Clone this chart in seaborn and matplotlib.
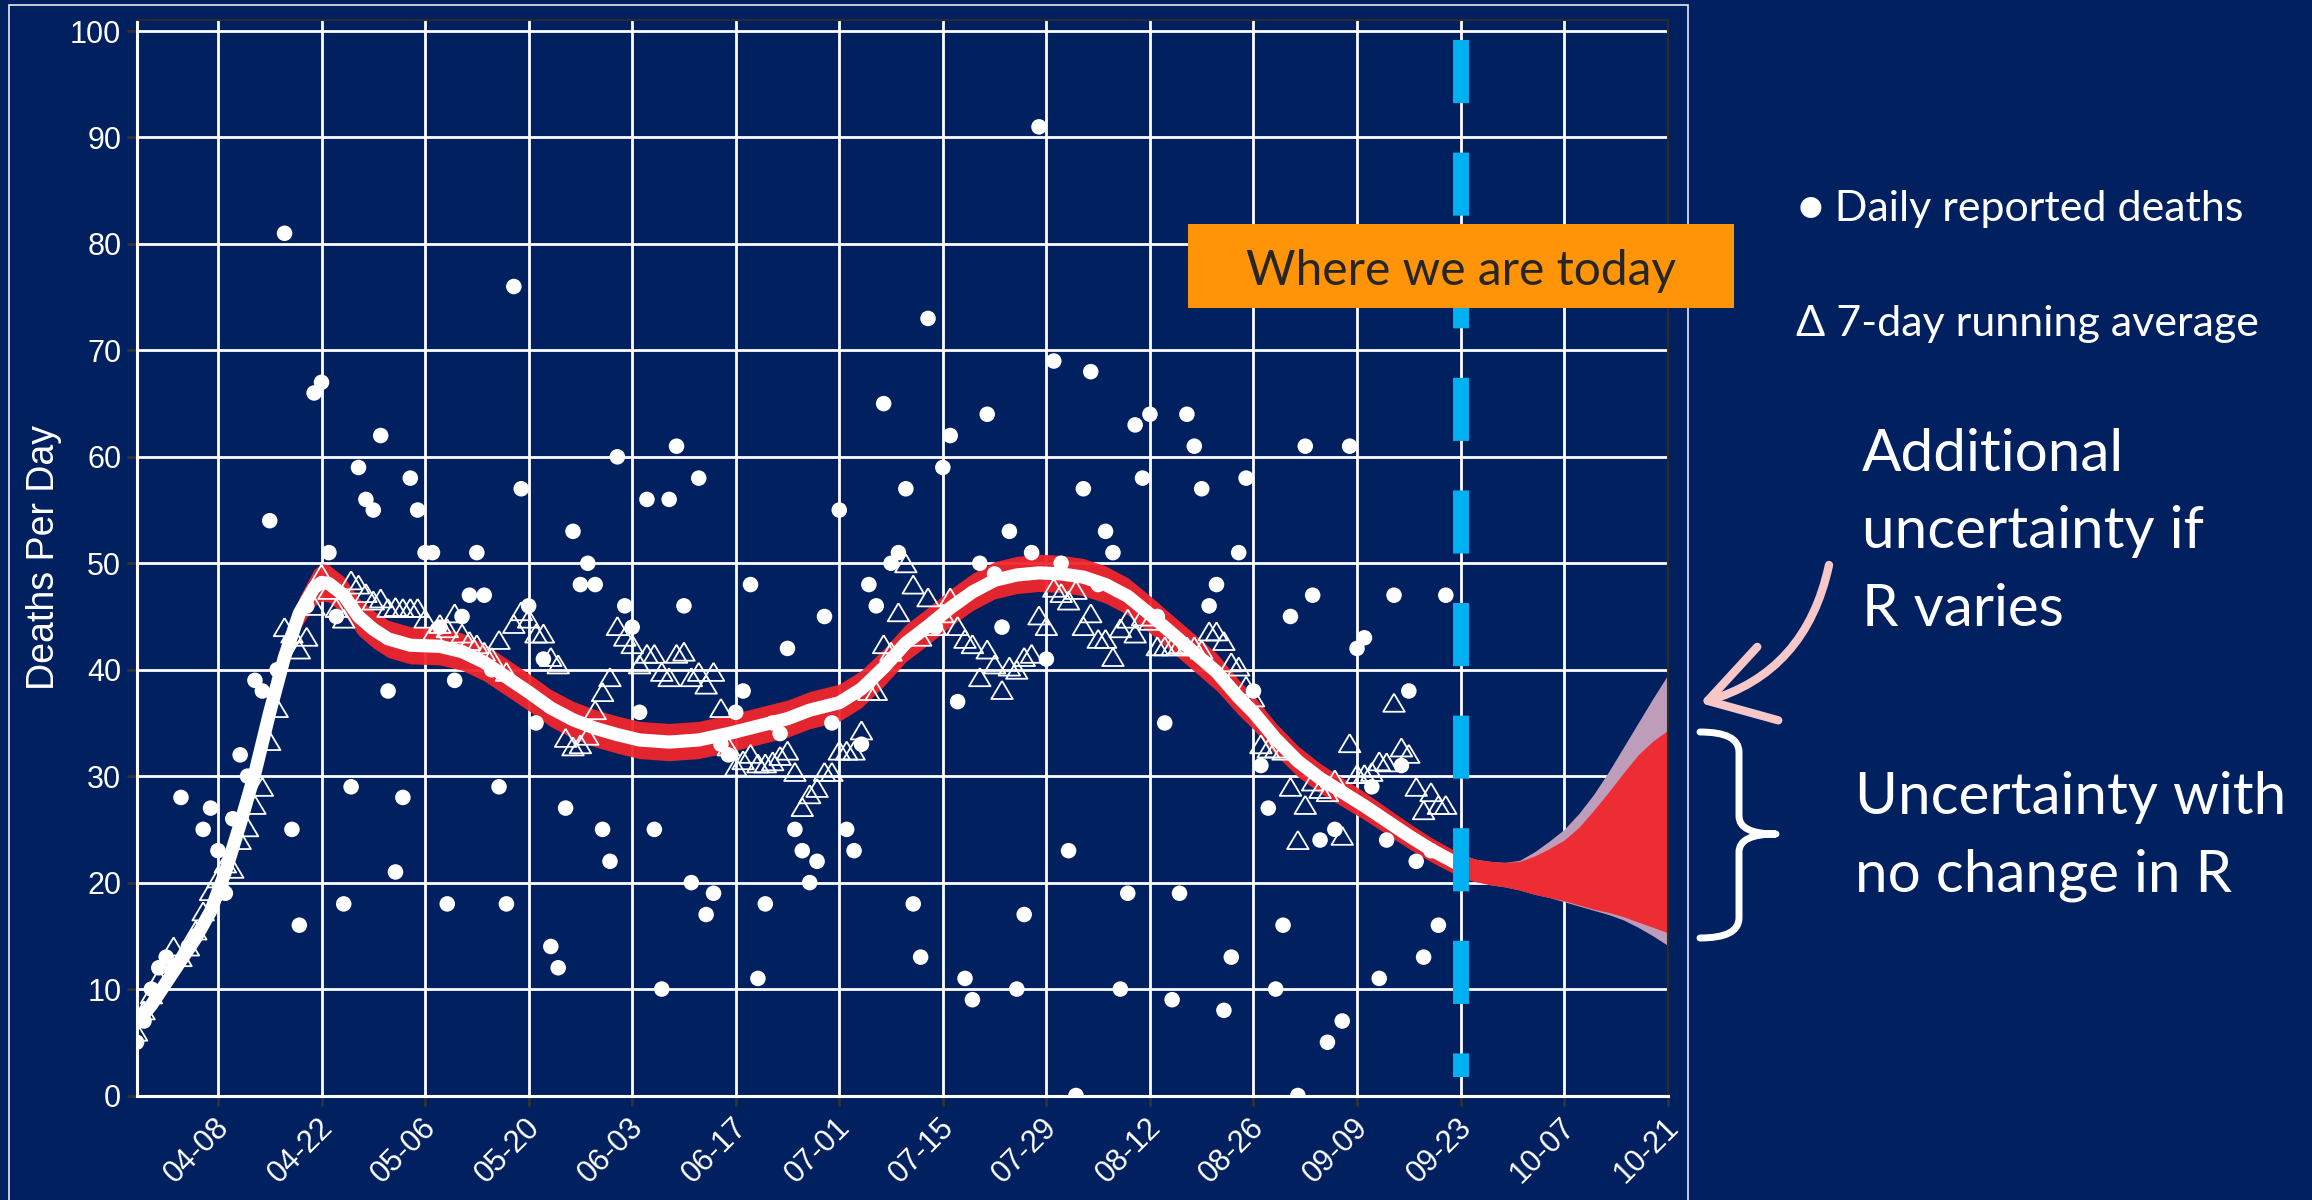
import numpy as np
import pandas as pd
import matplotlib
matplotlib.use("Agg")
import matplotlib.pyplot as plt
from matplotlib.patches import Rectangle, FancyArrowPatch, PathPatch
from matplotlib.path import Path
from matplotlib.transforms import ScaledTranslation
import seaborn as sns

NAVY = "#002060"
W, H = 2312, 1200

# data, one value per day from 2020-03-28
start = pd.Timestamp("2020-03-28")
daily_deaths = [
    5, 7, 10, 12, 13, 12, 28, 14, 15, 25,
    27, 23, 19, 26, 32, 30, 39, 38, 54, 40,
    81, 25, 16, 46, 66, 67, 51, 45, 18, 29,
    59, 56, 55, 62, 38, 21, 28, 58, 55, 51,
    51, 44, 18, 39, 45, 47, 51, 47, 40, 29,
    18, 76, 57, 46, 35, 41, 14, 12, 27, 53,
    48, 50, 48, 25, 22, 60, 46, 44, 36, 56,
    25, 10, 56, 61, 46, 20, 58, 17, 19, 33,
    32, 36, 38, 48, 11, 18, 35, 34, 42, 25,
    23, 20, 22, 45, 35, 55, 25, 23, 33, 48,
    46, 65, 50, 51, 57, 18, 13, 73, 44, 59,
    62, 37, 11, 9, 50, 64, 49, 44, 53, 10,
    17, 51, 91, 41, 69, 50, 23, 0, 57, 68,
    48, 53, 51, 10, 19, 63, 58, 64, 45, 35,
    9, 19, 64, 61, 57, 46, 48, 8, 13, 51,
    58, 38, 31, 27, 10, 16, 45, 0, 61, 47,
    24, 5, 25, 7, 61, 42, 43, 29, 11, 24,
    47, 31, 38, 22, 13, 23, 16, 47,
]
running_avg = [
    6, 8, 9.5, 11, 12.5, 14, 13, 14, 15.5, 17.3,
    19.2, 20.4, 21.8, 21.3, 24, 25.2, 27.3, 29, 33.3, 36.4,
    44, 43.4, 41.9, 43.1, 46, 49, 47.5, 45.8, 44.8, 48.4,
    48, 47.2, 46.5, 46.7, 45.8, 45.9, 45.8, 45.8, 45.8, 44.8,
    43.4, 44.3, 43.9, 45.3, 43.4, 42.7, 42.4, 41.7, 41.2, 42.8,
    39.8, 44.3, 45.5, 44.8, 43.4, 43.4, 41.2, 40.5, 33.6, 32.8,
    33, 33.8, 36.2, 37.9, 39.3, 44.1, 43.1, 42.4, 40.5, 41.5,
    41.5, 39.8, 39.3, 41.5, 41.7, 39.3, 39.8, 38.6, 39.8, 36.4,
    32.8, 30.9, 31.5, 32.1, 31.2, 31.2, 31.4, 31.9, 32.4, 30.4,
    27.1, 28.3, 28.9, 30.4, 30.4, 32.4, 32.4, 32.4, 34.3, 38,
    38, 42.4, 41.7, 45.4, 50, 48, 43.1, 46.8, 44.1, 45.3,
    46.8, 44.1, 42.9, 42.4, 39.3, 41.9, 40.5, 38.1, 40.3, 40,
    41.2, 41.5, 45.1, 44.1, 47.7, 47.2, 46.5, 47.5, 44.1, 45.3,
    42.9, 42.9, 41.2, 43.9, 44.8, 43.4, 45, 44.6, 42.2, 42.2,
    42.2, 42.4, 42.2, 42.2, 41.9, 43.6, 43.6, 42.7, 40.7, 40.3,
    38.5, 37.4, 33, 32.6, 32.6, 32.4, 29, 24, 27.3, 29.5,
    28.8, 28.5, 29.7, 24.4, 33.1, 30.2, 30.2, 30.4, 31.4, 31.3,
    36.9, 32.7, 32.1, 29, 26.8, 28.5, 27.3, 27.3,
]

# model fit (days after start), its value and the half width of the red band
fit_day = [0, 2, 4, 6, 8, 10, 12, 14, 16, 18, 19, 20, 22, 24, 25, 26, 28, 30,
           32, 34, 37, 41, 44, 47, 50, 53, 56, 59, 62, 65, 68, 72, 76, 80, 84,
           88, 91, 95, 98, 101, 104, 107, 110, 113, 116, 119, 122, 125, 128,
           131, 134, 137, 140, 143, 146, 149, 151, 154, 157, 160, 163, 166,
           169, 172, 175, 179]
fit_value = [6.8, 8.5, 10.6, 12.7, 14.8, 17.3, 21.0, 25.5, 30.3, 36.0, 38.6,
             41.2, 45.3, 47.7, 48.2, 48.1, 47.0, 45.0, 43.8, 42.9, 42.3, 42.2,
             41.7, 40.7, 39.3, 37.9, 36.4, 35.3, 34.5, 33.9, 33.4, 33.2, 33.4,
             34.0, 34.7, 35.4, 36.2, 36.9, 38.2, 40.2, 42.5, 44.1, 45.8, 47.3,
             48.4, 48.9, 49.1, 49.0, 48.7, 48.0, 46.9, 45.2, 43.4, 41.6, 39.8,
             37.4, 36.0, 33.5, 31.4, 29.8, 28.5, 27.2, 25.8, 24.4, 23.1, 21.6]
fit_halfwidth = [np.nan] * 10 + [0.0, 0.7, 1.5] + [1.75] * 42 + \
                [1.65, 1.6, 1.5, 1.45, 1.4, 1.35, 1.3, 1.25, 1.2, 1.15, 1.1]

# projection after today
proj_day = [179, 181, 183, 185, 187, 189, 191, 193, 195, 197, 199, 201, 203, 205, 207]
proj_hi = [22.7, 22.2, 22.0, 21.9, 22.0, 22.5, 23.2, 24.0, 25.2, 26.8, 28.5, 30.3, 32.0, 33.3, 34.3]
proj_lo = [20.5, 20.1, 19.8, 19.6, 19.3, 18.9, 18.6, 18.3, 17.9, 17.5, 17.2, 16.8, 16.3, 15.8, 15.3]
proj_r_hi = [22.7, 22.2, 22.0, 21.9, 22.1, 22.9, 23.9, 25.0, 26.5, 28.3, 30.4, 32.7, 35.0, 37.3, 39.5]
proj_r_lo = [20.5, 20.1, 19.8, 19.6, 19.3, 18.9, 18.6, 18.2, 17.8, 17.4, 17.0, 16.5, 15.8, 15.0, 14.1]

today = pd.Timestamp("2020-09-23")
end = pd.Timestamp("2020-10-21")
tick_labels = ["04-08", "04-22", "05-06", "05-20", "06-03", "06-17", "07-01",
               "07-15", "07-29", "08-12", "08-26", "09-09", "09-23", "10-07", "10-21"]
y_ticks = list(range(0, 101, 10))


def fx(x):
    return x / W


def fy(y):
    return 1 - y / H


sns.set_theme(style="darkgrid", rc={"axes.facecolor": NAVY, "figure.facecolor": NAVY,
                                    "grid.color": "white", "grid.linewidth": 2})
plt.rcParams["font.family"] = ["Liberation Sans", "DejaVu Sans"]
SIDE_FONT = ["Lato", "DejaVu Sans"]
RED = "#F0262C"

fig = plt.figure(figsize=(W / 100, H / 100), dpi=100)
ax = fig.add_axes([fx(136.6), 104.5 / H, 1531.1 / W, 1075.1 / H])

dates = start + pd.to_timedelta(np.arange(len(daily_deaths)), unit="D")
fit_dates = start + pd.to_timedelta(fit_day, unit="D")
proj_dates = start + pd.to_timedelta(proj_day, unit="D")
fit_v = np.array(fit_value)
fit_hw = np.array(fit_halfwidth)

# red band and white model line
ax.fill_between(fit_dates, fit_v - fit_hw, fit_v + fit_hw, color=RED,
                alpha=0.95, lw=0, zorder=2)
sns.lineplot(x=fit_dates, y=fit_v, color="white", lw=9.5, ax=ax, zorder=3,
             solid_capstyle="round")

# projection cone
ax.fill_between(proj_dates, proj_r_lo, proj_r_hi, color="#BD9DB9", lw=0, zorder=2)
ax.fill_between(proj_dates, proj_lo, proj_hi, color=RED, alpha=0.95, lw=0, zorder=2.1)

# points
tri = [(0, 0.84), (-1, -0.84), (1, -0.84), (0, 0.84)]
sns.scatterplot(x=dates, y=running_avg, marker=tri, s=240, color="white",
                facecolor="none", edgecolor="white", linewidth=1.3, ax=ax, zorder=4)
sns.scatterplot(x=dates, y=daily_deaths, marker="o", s=125, color="white",
                edgecolor="none", ax=ax, zorder=5)

# today line
ax.axvline(today, ymin=0.982, ymax=0.017, color="#00B0F0", lw=11.5,
           dashes=(3.95, 3.1), zorder=6)

ax.set_xlim(start, end)
ax.set_ylim(0, 101)
ax.set_yticks(y_ticks)
ax.set_xticks(pd.to_datetime(["2020-" + t for t in tick_labels]))
ax.set_xticklabels(tick_labels, rotation=45, ha="right")
ax.set_xlabel("")
ax.grid(True, color="white", lw=2)
ax.set_axisbelow(True)
ax.tick_params(axis="both", bottom=True, left=True, length=7, width=2,
               color="#333333", labelcolor="white")
ax.tick_params(axis="y", labelsize=22, pad=4)
ax.tick_params(axis="x", labelsize=22, pad=5)
for lbl in ax.get_xticklabels():
    lbl.set_transform(lbl.get_transform() + ScaledTranslation(0.17, 0, fig.dpi_scale_trans))
for side in ["left", "bottom"]:
    ax.spines[side].set_visible(True)
    ax.spines[side].set_color("white")
    ax.spines[side].set_linewidth(2.2)
for side in ["top", "right"]:
    ax.spines[side].set_visible(True)
    ax.spines[side].set_color("#2B2B2B")
    ax.spines[side].set_linewidth(1.5)
ax.set_ylabel("Deaths Per Day", fontsize=27, color="white")
ax.yaxis.set_label_coords(-0.049, 0.5)

# white frame round the chart
fig.add_artist(Rectangle((fx(9), fy(1210)), fx(1688) - fx(9), fy(4.6) - fy(1210),
                         transform=fig.transFigure, fill=False, edgecolor="#E6EAF2",
                         lw=1.2, zorder=0))

# "Where we are today" box
fig.add_artist(Rectangle((fx(1188), fy(308)), (1734 - 1188) / W, 84 / H,
                         transform=fig.transFigure, facecolor="#FF9408",
                         edgecolor="none", zorder=10))
fig.text(fx(1461), fy(285), "Where we are today", ha="center", va="baseline",
         fontsize=34.5, color="#262626", family=SIDE_FONT, zorder=11)

# side legend and notes
fig.text(fx(1798), fy(221), "\u25CF Daily reported deaths", fontsize=31,
         color="white", family=SIDE_FONT, va="baseline")
fig.text(fx(1796), fy(336), "\u0394 7-day running average", fontsize=31,
         color="white", family=SIDE_FONT, va="baseline")
for txt, base in [("Additional", 471), ("uncertainty if", 548), ("R varies", 626)]:
    fig.text(fx(1862), fy(base), txt, fontsize=42, color="white",
             family=SIDE_FONT, va="baseline")
for txt, base in [("Uncertainty with", 814), ("no change in R", 891)]:
    fig.text(fx(1855), fy(base), txt, fontsize=42, color="white",
             family=SIDE_FONT, va="baseline")

# curly brace
brace_px = [(1700, 732), (1739, 732), (1739, 752), (1739, 816), (1739, 834),
            (1776, 834), (1739, 834), (1739, 852), (1739, 918), (1739, 938),
            (1700, 938)]
codes = [Path.MOVETO, Path.CURVE3, Path.CURVE3, Path.LINETO, Path.CURVE3,
         Path.CURVE3, Path.CURVE3, Path.CURVE3, Path.LINETO, Path.CURVE3, Path.CURVE3]
brace = Path([(fx(x), fy(y)) for x, y in brace_px], codes)
fig.add_artist(PathPatch(brace, transform=fig.transFigure, fill=False,
                         edgecolor="white", lw=5, capstyle="round", joinstyle="round"))

# pink arrow
fig.add_artist(FancyArrowPatch((fx(1829), fy(565)), (fx(1700), fy(703)),
                               transform=fig.transFigure,
                               connectionstyle="arc3,rad=-0.3",
                               arrowstyle="->,head_length=0.9,head_width=0.55",
                               mutation_scale=50, lw=6, color="#F8C8C8",
                               shrinkA=0, shrinkB=0))

fig.savefig("out.png", dpi=100, facecolor=NAVY)
